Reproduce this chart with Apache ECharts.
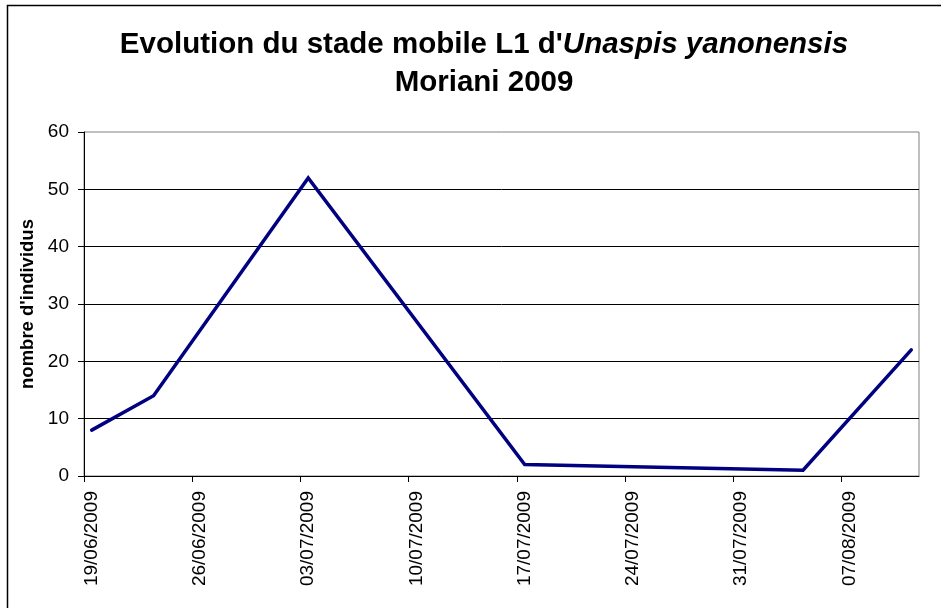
<!DOCTYPE html>
<html>
<head>
<meta charset="utf-8">
<script src="https://cdn.jsdelivr.net/npm/echarts@6/dist/echarts.min.js"></script>
<style>
  html, body { margin: 0; padding: 0; background: #fff; }
  #chart { width: 941px; height: 608px; }
</style>
</head>
<body>
<div id="chart"></div>
<script>
// sampling dates and counts (L1 mobile stage)
const sampleDates = ['19/06/2009', '23/06/2009', '03/07/2009', '17/07/2009', '04/08/2009', '11/08/2009'];
const counts = [8, 14, 52, 2, 1, 22];
// weekly date labels on the x axis
const tickLabels = ['19/06/2009', '26/06/2009', '03/07/2009', '10/07/2009', '17/07/2009', '24/07/2009', '31/07/2009', '07/08/2009'];
const axisStart = '19/06/2009';
const axisEnd = '12/08/2009';
const yMin = 0, yMax = 60, yStep = 10;

const FONT = "'Liberation Sans', Arial, sans-serif";

function toUTC(s) {
	let [d, m, y] = s.split('/').map(Number);
	return Date.UTC(y, m - 1, d);
}
// days since start of axis; each day is a slot, points sit in the middle of it
function dayIndex(s) {
	return (toUTC(s) - toUTC(axisStart)) / 86400000;
}

let tickDays = tickLabels.map(dayIndex);
let labelDays = tickDays.map(d => d + 0.5);

let myChart = echarts.init(document.getElementById('chart'));
let option = {
	animation: false,
	backgroundColor: '#fff',
	textStyle: {fontFamily: FONT},
	title: {
		left: 484,
		top: 26,
		padding: 0,
		textAlign: 'center',
		text: "{a|Evolution du stade mobile L1 d'}{b|Unaspis yanonensis}\n{a|Moriani 2009}",
		textStyle: {
			rich: {
				a: {fontFamily: FONT, fontSize: 29.5, fontWeight: 'bold', color: '#000', lineHeight: 38},
				b: {fontFamily: FONT, fontSize: 29.5, fontWeight: 'bold', fontStyle: 'italic', color: '#000', lineHeight: 38}
			}
		}
	},
	graphic: [{
		type: 'rect',
		shape: {x: 7.5, y: 5.5, width: 1000, height: 1000},
		style: {fill: null, stroke: '#000', lineWidth: 1.5},
		silent: true
	}],
	grid: {
		left: 84,
		right: 22,
		top: 132,
		bottom: 132,
		show: true,
		borderColor: '#808080',
		borderWidth: 1
	},
	xAxis: {
		type: 'value',
		min: dayIndex(axisStart),
		max: dayIndex(axisEnd),
		axisLine: {lineStyle: {color: '#000', width: 1}},
		axisTick: {show: true, length: 6, customValues: tickDays, lineStyle: {color: '#000'}},
		axisLabel: {
			customValues: labelDays,
			rotate: 90,
			margin: 15,
			fontSize: 19,
			color: '#000',
			fontFamily: FONT,
			formatter: function (v) {
				let i = labelDays.indexOf(v);
				return i >= 0 ? tickLabels[i] : '';
			}
		},
		splitLine: {show: false}
	},
	yAxis: {
		type: 'value',
		min: yMin,
		max: yMax,
		interval: yStep,
		name: "nombre d'individus",
		nameLocation: 'middle',
		nameRotate: 90,
		nameGap: 46,
		nameTextStyle: {fontFamily: FONT, fontSize: 18.5, fontWeight: 'bold', color: '#000'},
		axisLine: {show: true, lineStyle: {color: '#000', width: 1}},
		axisTick: {show: true, length: 6, lineStyle: {color: '#000'}},
		axisLabel: {margin: 15, fontSize: 19, color: '#000', fontFamily: FONT},
		splitLine: {show: true, showMaxLine: false, lineStyle: {color: '#000', width: 1}}
	},
	series: [{
		type: 'line',
		showSymbol: false,
		symbol: 'none',
		lineStyle: {color: '#000080', width: 3.5, cap: 'round', join: 'miter'},
		data: sampleDates.map((d, i) => [dayIndex(d) + 0.5, counts[i]])
	}]
};
myChart.setOption(option);
</script>
</body>
</html>
